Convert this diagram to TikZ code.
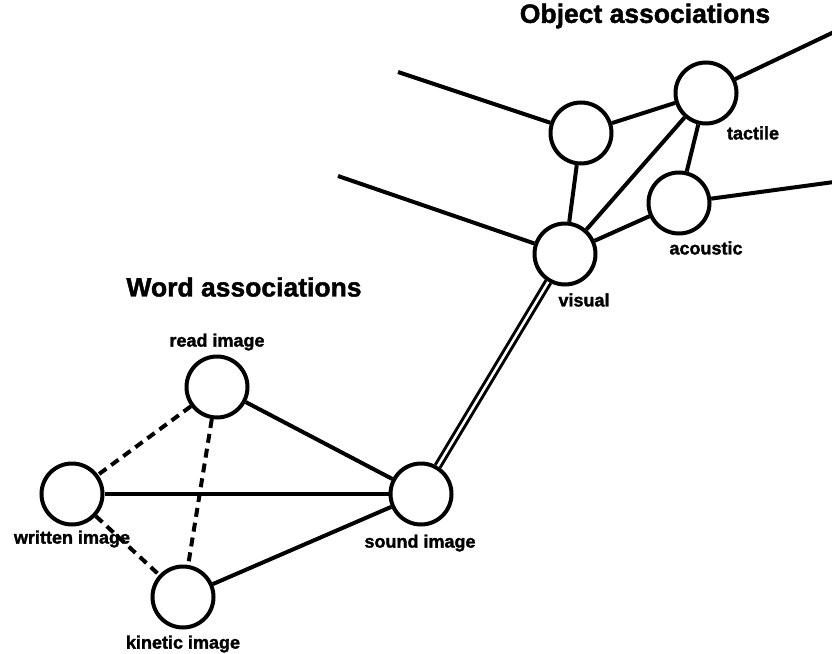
\documentclass[tikz,border=0pt]{standalone}
\usepackage{fontspec}
\setmainfont{Liberation Sans}
\newfontface\heavyface{Liberation Sans Bold}[FakeBold=1.6]
\usetikzlibrary{positioning}

\begin{document}
\begin{tikzpicture}[x=1pt, y=-1pt]
		\tikzstyle{every node}=[font=\heavyface]
		\tikzstyle{assoc}=[circle, draw, line width=4pt, minimum size=61pt, inner sep=0pt]
		\tikzstyle{link}=[line width=4pt]
		\tikzstyle{loose}=[line width=4pt, dash pattern=on 9pt off 6pt]
		\tikzstyle{lbl}=[font=\fontsize{18}{20}\selectfont\heavyface, inner sep=0pt]
		\tikzstyle{heading}=[font=\fontsize{26.5}{30}\selectfont\heavyface, inner sep=0pt]
		\useasboundingbox (0,0) rectangle (832,653);
		% word associations
		\node [heading] (wordtitle) at (244,287) {Word associations};
		\node [assoc] (read) at (217,387) {};
		\node [assoc] (written) at (72,494) {};
		\node [assoc] (kinetic) at (183,597) {};
		\node [assoc] (sound) at (421,494) {};
		\node [lbl] (readlbl) at (217,342) {read image};
		\node [lbl] (writtenlbl) at (72,539) {written image};
		\node [lbl] (kineticlbl) at (183,644) {kinetic image};
		\node [lbl] (soundlbl) at (420,543) {sound image};
		% object associations
		\node [heading] (objtitle) at (645,16) {Object associations};
		\node [assoc] (visual) at (565,254) {};
		\node [assoc] (other) at (581,133) {};
		\node [assoc] (tactile) at (706,93) {};
		\node [assoc] (acoustic) at (679,203) {};
		\node [lbl] (visuallbl) at (584,300) {visual};
		\node [lbl] (tactilelbl) at (753,133) {tactile};
		\node [lbl] (acousticlbl) at (706,248) {acoustic};
		\coordinate (otherend) at (398,72);
		\coordinate (visualend) at (338,176);
		\coordinate (tactileend) at (834,32);
		\coordinate (acousticend) at (834,182);
		% connections
		\draw [loose] (read) -- (written);
		\draw [loose] (read) -- (kinetic);
		\draw [loose] (written) -- (kinetic);
		\draw [link] (read) -- (sound);
		\draw [link] (written) -- (sound);
		\draw [link] (kinetic) -- (sound);
		\draw [line width=3pt, double, double distance=2.5pt] (sound) -- (visual);
		\draw [link] (other) -- (tactile);
		\draw [link] (other) -- (visual);
		\draw [link] (visual) -- (tactile);
		\draw [link] (tactile) -- (acoustic);
		\draw [link] (visual) -- (acoustic);
		\draw [link] (otherend) -- (other);
		\draw [link] (visualend) -- (visual);
		\draw [link] (tactile) -- (tactileend);
		\draw [link] (acoustic) -- (acousticend);
\end{tikzpicture}
\end{document}
